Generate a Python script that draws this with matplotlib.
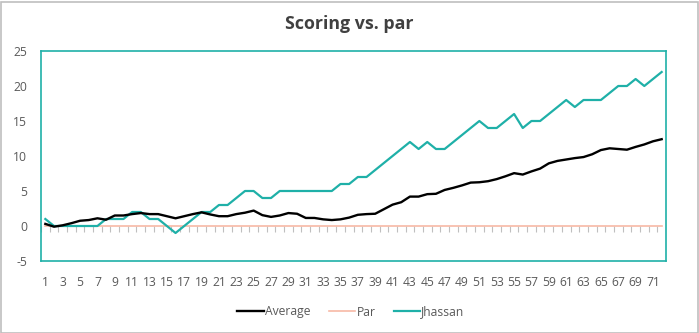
import numpy as np
import matplotlib
matplotlib.use("Agg")
import matplotlib.pyplot as plt
from matplotlib.patches import Rectangle

# Round numbers 1..72
rounds = list(range(1, 73))

# Cumulative strokes over par
average = [0.3, -0.1, 0.1, 0.4, 0.75, 0.85, 1.1, 0.9, 1.5, 1.5,
           1.7, 1.85, 1.7, 1.7, 1.4, 1.1, 1.4, 1.7, 1.95, 1.65,
           1.4, 1.4, 1.7, 1.9, 2.2, 1.55, 1.3, 1.5, 1.85, 1.75,
           1.15, 1.15, 0.95, 0.85, 0.95, 1.2, 1.6, 1.7, 1.75, 2.4,
           3.05, 3.4, 4.2, 4.2, 4.55, 4.6, 5.15, 5.45, 5.8, 6.2,
           6.25, 6.4, 6.7, 7.1, 7.55, 7.35, 7.8, 8.2, 8.95, 9.3,
           9.5, 9.7, 9.85, 10.25, 10.85, 11.1, 11.0, 10.9, 11.3, 11.65,
           12.1, 12.4]
par = [0] * 72
jhassan = [1, 0, 0, 0, 0, 0, 0, 1, 1, 1,
           2, 2, 1, 1, 0, -1, 0, 1, 2, 2,
           3, 3, 4, 5, 5, 4, 4, 5, 5, 5,
           5, 5, 5, 5, 6, 6, 7, 7, 8, 9,
           10, 11, 12, 11, 12, 11, 11, 12, 13, 14,
           15, 14, 14, 15, 16, 14, 15, 15, 16, 17,
           18, 17, 18, 18, 18, 19, 20, 20, 21, 20,
           21, 22]

x_labels = [str(r) if r % 2 == 1 else "" for r in rounds]
y_ticks = [-5, 0, 5, 10, 15, 20, 25]

TEAL = "#1fb0a8"
PAR_C = "#f7b9a6"
TXT = "#595959"
FS = 8.7

plt.rcParams["font.family"] = ["Open Sans", "DejaVu Sans"]

fig = plt.figure(figsize=(6.99, 3.33), dpi=100)
fig.patch.set_facecolor("white")
ax = fig.add_axes([41 / 699, 1 - 261 / 333, 625 / 699, 210 / 333])

ax.plot(rounds, average, color="#000000", lw=1.7, label="Average", zorder=4)
ax.plot(rounds, par, color=PAR_C, lw=1.2, label="Par", zorder=2)
ax.plot(rounds, jhassan, color=TEAL, lw=1.6, label="Jhassan", zorder=3)

ax.set_xlim(0.5, len(rounds) + 0.5)
ax.set_ylim(-5, 25)
ax.set_yticks(y_ticks)
ax.set_yticklabels([str(v) for v in y_ticks])
ax.set_xticks(rounds)
ax.set_xticklabels(x_labels)
ax.tick_params(axis="both", length=0, labelsize=FS, colors=TXT)
ax.tick_params(axis="y", pad=10)
ax.tick_params(axis="x", pad=11)

# category tick marks hanging below the zero line
bounds = np.arange(0.5, len(rounds) + 1, 1.0)
ax.vlines(bounds, -0.8, 0, color="#bfbfbf", lw=0.8, zorder=1)

for s in ax.spines.values():
    s.set_color(TEAL)
    s.set_linewidth(1.2)

fig.text(0.5, 1 - 24 / 333, "Scoring vs. par", ha="center", va="center",
         fontsize=12.8, fontweight="bold", color="#404040")

leg = fig.legend(loc="center", bbox_to_anchor=(351 / 699, 1 - 312 / 333),
                 ncol=3, frameon=False, fontsize=FS, handlelength=2.2,
                 handletextpad=0.1, columnspacing=1.5)
for t in leg.get_texts():
    t.set_color(TXT)

fig.patches.append(Rectangle((0.5 / 699, 0.5 / 333), 697 / 699, 331 / 333,
                             transform=fig.transFigure, fill=False,
                             edgecolor="#bfbfbf", lw=1.2))

fig.savefig("out.png", dpi=100)
